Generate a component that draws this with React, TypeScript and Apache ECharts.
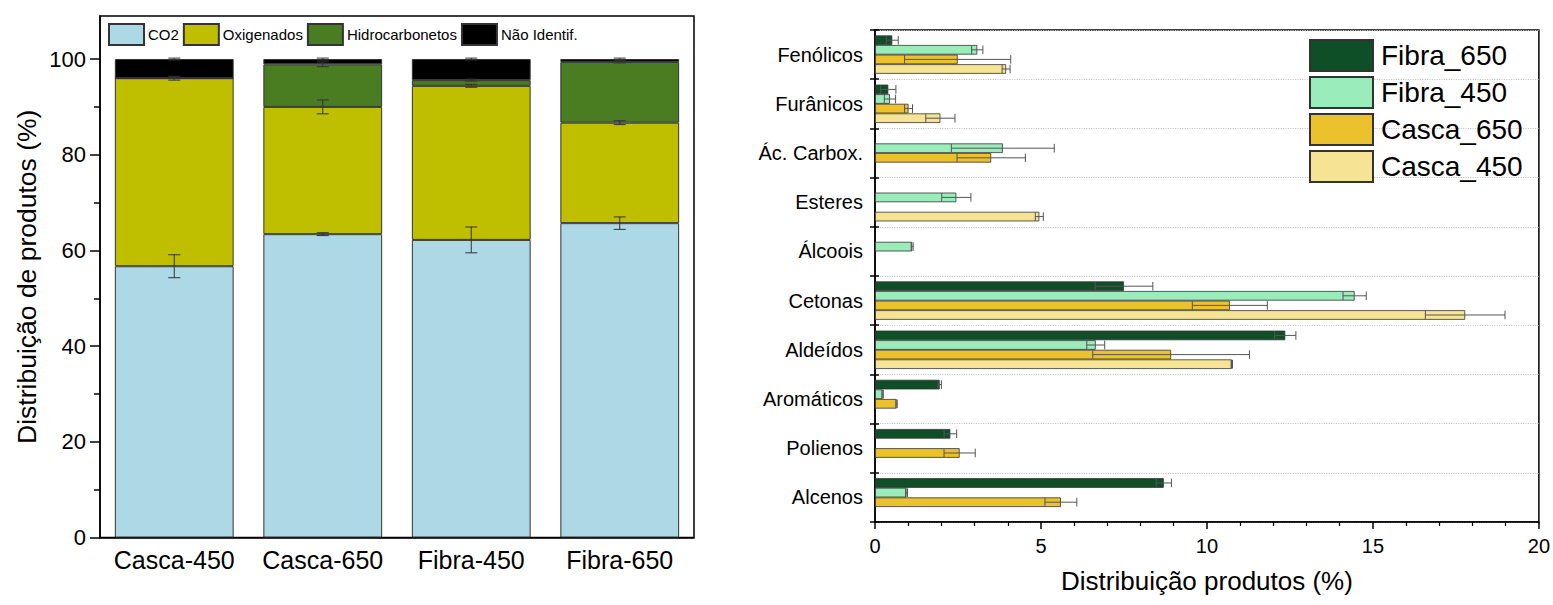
import React, { useEffect, useRef } from "react";
import * as echarts from "echarts";

// ---- Left chart data (stacked %) ----
const categoriesL = ["Casca-450", "Casca-650", "Fibra-450", "Fibra-650"];
const co2 = [56.7, 63.4, 62.2, 65.7];
const oxigenados = [39.3, 26.6, 32.2, 21.0];
const hidrocarbonetos = [0, 8.9, 1.2, 12.7];
const naoIdentif = [4.0, 1.1, 4.4, 0.6];
const co2Err = [2.4, 0.3, 2.7, 1.3];
const oxigErr = [0.4, 1.45, 0.3, 0.4];
const hidroErr = [0, 0.5, 0.2, 0.2];
const naoErr = [0.2, 0.2, 0.2, 0.2];
const leftTicks = [0, 20, 40, 60, 80, 100];
const leftMinorTicks = [10, 30, 50, 70, 90];

// ---- Right chart data (horizontal bars) ----
const categoriesR = [
  "Fenólicos",
  "Furânicos",
  "Ác. Carbox.",
  "Esteres",
  "Álcoois",
  "Cetonas",
  "Aldeídos",
  "Aromáticos",
  "Polienos",
  "Alcenos",
];
const fibra650 = [0.52, 0.4, null, null, null, 7.5, 12.36, 1.95, 2.27, 8.7];
const fibra650Err = [0.18, 0.23, 0, 0, 0, 0.87, 0.32, 0.05, 0.19, 0.23];
const fibra450 = [3.08, 0.45, 3.85, 2.45, 1.12, 14.45, 6.65, 0.23, null, 0.95];
const fibra450Err = [0.17, 0.17, 1.55, 0.44, 0.03, 0.35, 0.27, 0.02, 0, 0.03];
const casca650 = [2.49, 1.01, 3.5, null, null, 10.69, 8.92, 0.65, 2.55, 5.6];
const casca650Err = [1.6, 0.12, 1.03, 0, 0, 1.13, 2.36, 0.02, 0.47, 0.48];
const casca450 = [3.95, 1.97, null, 4.95, null, 17.78, 10.75, null, null, null];
const casca450Err = [0.12, 0.44, 0, 0.12, 0, 1.2, 0.02, 0, 0, 0];

const FONT = "'Liberation Sans', Arial, sans-serif";

export default function App() {
  const ref = useRef<HTMLDivElement>(null);

  useEffect(() => {
    if (!ref.current) return;
    const chart = echarts.init(ref.current, undefined, { renderer: "svg" });

    // left error bar data: [cat, top, err]
    const leftSegs = [co2, oxigenados, hidrocarbonetos, naoIdentif];
    const leftErrs = [co2Err, oxigErr, hidroErr, naoErr];
    const leftErrData: number[][] = [];
    categoriesL.forEach((_, i) => {
      let top = 0;
      leftSegs.forEach((seg, s) => {
        top += seg[i];
        if (seg[i] > 0 && leftErrs[s][i] > 0) leftErrData.push([i, top, leftErrs[s][i]]);
      });
    });

    // right error bar data: [value, cat, err, seriesIndex]
    const rightVals = [fibra650, fibra450, casca650, casca450];
    const rightErrs = [fibra650Err, fibra450Err, casca650Err, casca450Err];
    const rightErrData: number[][] = [];
    rightVals.forEach((vals, s) => {
      vals.forEach((v, c) => {
        if (v != null && rightErrs[s][c] > 0) rightErrData.push([v as number, c, rightErrs[s][c], s]);
      });
    });

    const barBorder = { borderColor: "#333", borderWidth: 1 };
    const rightColors = ["#0E4F27", "#9AEDBA", "#ECC22C", "#F6E394"];
    const rightNames = ["Fibra_650", "Fibra_450", "Casca_650", "Casca_450"];
    const GAP = 0.22;

    chart.setOption({
      animation: false,
      textStyle: { fontFamily: FONT, color: "#000" },
      legend: [
        {
          data: ["CO2", "Oxigenados", "Hidrocarbonetos", "Não Identif."],
          left: 108,
          top: 23,
          itemWidth: 35,
          itemHeight: 21,
          itemGap: 4,
          icon: "rect",
          textStyle: { fontSize: 15, color: "#000", padding: [0, 0, 0, -1] },
          padding: 0,
        },
        {
          data: rightNames,
          orient: "vertical",
          left: 1309,
          top: 39,
          itemWidth: 63,
          itemHeight: 31,
          itemGap: 4,
          icon: "rect",
          textStyle: { fontSize: 28, color: "#000", padding: [0, 0, 0, 3] },
          padding: 0,
        },
      ],
      grid: [
        { left: 100, top: 16, width: 594, height: 521.5, show: true, borderColor: "#000", borderWidth: 1.5, backgroundColor: "transparent" },
        { left: 875, top: 30, width: 668, height: 492, show: true, borderColor: "#000", borderWidth: 1.5, backgroundColor: "transparent" },
      ],
      xAxis: [
        {
          gridIndex: 0,
          type: "category",
          data: categoriesL,
          axisLine: { lineStyle: { color: "#000", width: 1.5 } },
          axisTick: { show: false },
          axisLabel: { fontSize: 25, color: "#000", margin: 10, interval: 0 },
        },
        {
          gridIndex: 1,
          type: "value",
          min: 0,
          max: 20,
          interval: 5,
          axisLine: { show: true, lineStyle: { color: "#000", width: 1.5 } },
          axisTick: { show: true, length: 7, lineStyle: { color: "#000", width: 1.5 } },
          minorTick: { show: true, splitNumber: 5, length: 4, lineStyle: { color: "#000", width: 1.2 } },
          splitLine: { show: false },
          axisLabel: { fontSize: 20, color: "#000", margin: 14 },
          name: "Distribuição produtos (%)",
          nameLocation: "middle",
          nameGap: 46,
          nameTextStyle: { fontSize: 26, color: "#000" },
        },
      ],
      yAxis: [
        {
          gridIndex: 0,
          type: "value",
          min: 0,
          max: 109,
          interval: 20,
          axisLine: { show: true, lineStyle: { color: "#000", width: 1.5 } },
          axisTick: { show: true, length: 10, customValues: leftTicks, lineStyle: { color: "#000", width: 1.5 } },
          axisLabel: { fontSize: 22, color: "#000", margin: 14, customValues: leftTicks },
          splitLine: { show: false },
          name: "Distribuição de produtos (%)",
          nameLocation: "middle",
          nameGap: 60,
          nameRotate: 90,
          nameTextStyle: { fontSize: 26.5, color: "#000" },
        },
        {
          gridIndex: 0,
          type: "value",
          min: 0,
          max: 109,
          position: "left",
          axisLine: { show: false },
          axisTick: { show: true, length: 6, customValues: leftMinorTicks, lineStyle: { color: "#000", width: 1.5 } },
          axisLabel: { show: false },
          splitLine: { show: false },
        },
        {
          gridIndex: 1,
          type: "category",
          data: categoriesR,
          inverse: true,
          axisLine: { lineStyle: { color: "#000", width: 1.5 } },
          axisTick: { show: true, length: 5, lineStyle: { color: "#000", width: 1.5 } },
          axisLabel: { fontSize: 20, color: "#000", margin: 12 },
          splitLine: { show: true, lineStyle: { color: "#c8c8c8", type: "dotted", width: 1.2 } },
        },
        {
          gridIndex: 1,
          type: "category",
          data: categoriesR,
          inverse: true,
          position: "left",
          axisLine: { show: false },
          axisTick: { show: true, inside: true, length: 4, lineStyle: { color: "#000", width: 1.5 } },
          axisLabel: { show: false },
          splitLine: { show: false },
        },
      ],
      series: [
        { name: "CO2", type: "bar", stack: "L", xAxisIndex: 0, yAxisIndex: 0, data: co2, barCategoryGap: "20%", itemStyle: { color: "#ADD8E6", ...barBorder } },
        { name: "Oxigenados", type: "bar", stack: "L", xAxisIndex: 0, yAxisIndex: 0, data: oxigenados, itemStyle: { color: "#BFBF00", ...barBorder } },
        { name: "Hidrocarbonetos", type: "bar", stack: "L", xAxisIndex: 0, yAxisIndex: 0, data: hidrocarbonetos, itemStyle: { color: "#4A7D22", ...barBorder } },
        { name: "Não Identif.", type: "bar", stack: "L", xAxisIndex: 0, yAxisIndex: 0, data: naoIdentif, itemStyle: { color: "#000000", ...barBorder } },
        {
          type: "custom",
          xAxisIndex: 0,
          yAxisIndex: 0,
          data: leftErrData,
          z: 5,
          renderItem: (params: any, api: any) => {
            const c = api.value(0);
            const top = api.value(1);
            const e = api.value(2);
            const hi = api.coord([c, top + e]);
            const lo = api.coord([c, top - e]);
            const hw = 6;
            const st = { stroke: "#333", lineWidth: 1 };
            return {
              type: "group",
              children: [
                { type: "line", shape: { x1: hi[0], y1: hi[1], x2: lo[0], y2: lo[1] }, style: st },
                { type: "line", shape: { x1: hi[0] - hw, y1: hi[1], x2: hi[0] + hw, y2: hi[1] }, style: st },
                { type: "line", shape: { x1: lo[0] - hw, y1: lo[1], x2: lo[0] + hw, y2: lo[1] }, style: st },
              ],
            };
          },
        },
        ...rightVals.map((vals, s) => ({
          name: rightNames[s],
          type: "bar",
          xAxisIndex: 1,
          yAxisIndex: 2,
          data: vals.map((v) => (v == null ? "-" : v)),
          barGap: "0%",
          barCategoryGap: "22%",
          itemStyle: { color: rightColors[s], borderColor: "#333", borderWidth: 0.8 },
        })),
        {
          type: "custom",
          xAxisIndex: 1,
          yAxisIndex: 2,
          data: rightErrData,
          z: 5,
          renderItem: (params: any, api: any) => {
            const v = api.value(0);
            const c = api.value(1);
            const e = api.value(2);
            const s = api.value(3);
            const band = api.size([0, 1])[1];
            const total = band * (1 - GAP);
            const bw = total / 4;
            const center = api.coord([v, c]);
            const y = center[1] - total / 2 + (s + 0.5) * bw;
            const x1 = api.coord([v - e, c])[0];
            const x2 = api.coord([v + e, c])[0];
            const h = bw * 0.45;
            const st = { stroke: "#555", lineWidth: 1 };
            return {
              type: "group",
              children: [
                { type: "line", shape: { x1, y1: y, x2, y2: y }, style: st },
                { type: "line", shape: { x1, y1: y - h, x2: x1, y2: y + h }, style: st },
                { type: "line", shape: { x1: x2, y1: y - h, x2, y2: y + h }, style: st },
              ],
            };
          },
        },
      ],
    });

    return () => chart.dispose();
  }, []);

  return (
    <div
      ref={ref}
      style={{ position: "absolute", left: 0, top: 0, width: 1553, height: 605, background: "#fff" }}
    />
  );
}
